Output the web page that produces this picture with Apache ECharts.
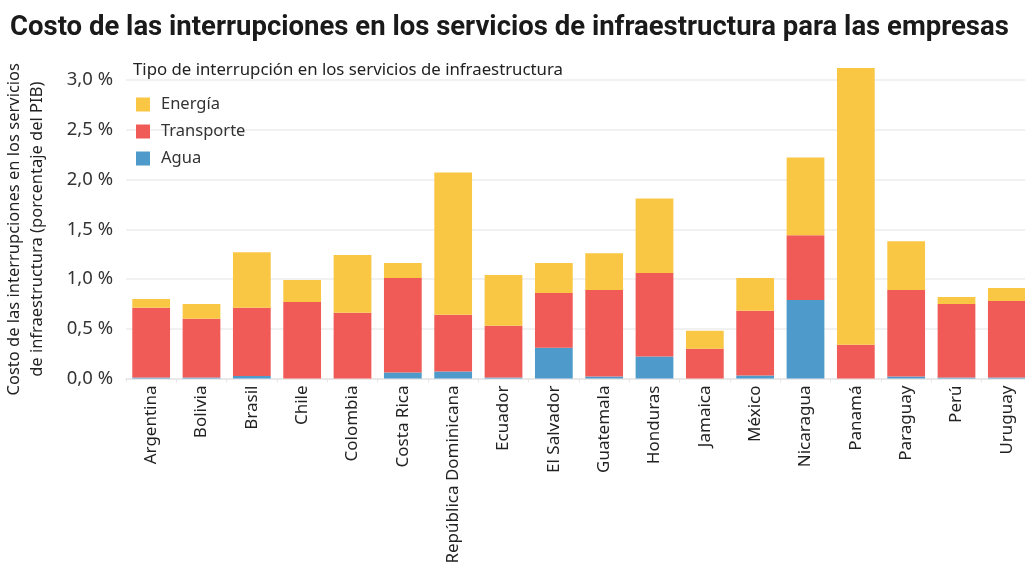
<!DOCTYPE html>
<html><head><meta charset="utf-8">
<script src="https://cdn.jsdelivr.net/npm/echarts@6/dist/echarts.min.js"></script>
<style>html,body{margin:0;padding:0;background:#fff}#c{width:1025px;height:563px}</style>
</head><body><div id="c"></div>
<script>
const categories = ['Argentina','Bolivia','Brasil','Chile','Colombia','Costa Rica','República Dominicana','Ecuador','El Salvador','Guatemala','Honduras','Jamaica','México','Nicaragua','Panamá','Paraguay','Perú','Uruguay'];
const agua       = [0.01,0.01,0.025,0,0,0.06,0.07,0.01,0.31,0.02,0.22,0,0.03,0.79,0,0.02,0.01,0.01];
const transporte = [0.70,0.59,0.685,0.77,0.66,0.95,0.57,0.52,0.55,0.87,0.84,0.30,0.65,0.65,0.34,0.87,0.74,0.77];
const energia    = [0.09,0.15,0.56,0.22,0.58,0.15,1.43,0.51,0.30,0.37,0.75,0.18,0.33,0.78,2.78,0.49,0.07,0.13];
const yTicks = [0,0.5,1.0,1.5,2.0,2.5,3.0];

const FONT = '"Noto Sans", sans-serif';
const chart = echarts.init(document.getElementById('c'), null, {renderer:'canvas'});
const mk = (name, data, color) => ({
  name, type:'bar', stack:'total', data, clip:false,
  barCategoryGap:'25%',
  itemStyle:{color},
  emphasis:{disabled:true}
});
chart.setOption({
  animation:false,
  title:[
    {text:'Costo de las interrupciones en los servicios de infraestructura para las empresas',
     left:10, top:14, padding:0,
     textStyle:{fontFamily:'Roboto, sans-serif', fontWeight:'bold', fontSize:27.5, color:'#1a1a1a'}},
    {text:'Tipo de interrupción en los servicios de infraestructura',
     left:133, top:62, padding:0,
     textStyle:{fontFamily:FONT, fontWeight:'normal', fontSize:16.8, color:'#222'}}
  ],
  legend:{
    data:['Energía','Transporte','Agua'],
    orient:'vertical', left:136, top:96, padding:0,
    itemWidth:14, itemHeight:14, itemGap:10,
    icon:'rect',
    textStyle:{fontFamily:FONT, fontSize:16.5, color:'#333', lineHeight:16, padding:[0,0,0,6]}
  },
  grid:{left:126, right:-7, top:80, bottom:184.5, containLabel:false, outerBoundsMode:'none'},
  xAxis:{
    type:'category', data:categories,
    axisLine:{show:true, lineStyle:{color:'#e6e6e6', width:1.5}},
    axisTick:{show:true, length:4, lineStyle:{color:'#e6e6e6'}},
    axisLabel:{rotate:90, interval:0, margin:7, fontFamily:FONT, fontSize:17, color:'#222'}
  },
  yAxis:{
    type:'value', min:0, max:3.0, interval:0.5,
    name:'Costo de las interrupciones en los servicios\nde infraestructura (porcentaje del PIB)',
    nameLocation:'middle', nameRotate:90, nameGap:77,
    nameTextStyle:{fontFamily:FONT, fontSize:16.5, color:'#222', lineHeight:23},
    axisLine:{show:false}, axisTick:{show:false},
    splitLine:{lineStyle:{color:'#ececec', width:1.5}},
    axisLabel:{margin:13, fontFamily:FONT, fontSize:18.5, color:'#333',
      formatter:v => yTicks.includes(+v.toFixed(2)) ? v.toFixed(1).replace('.',',')+' %' : ''}
  },
  series:[
    mk('Agua', agua, '#4E9BCB'),
    mk('Transporte', transporte, '#F05B58'),
    mk('Energía', energia, '#FAC745')
  ]
});
</script></body></html>
